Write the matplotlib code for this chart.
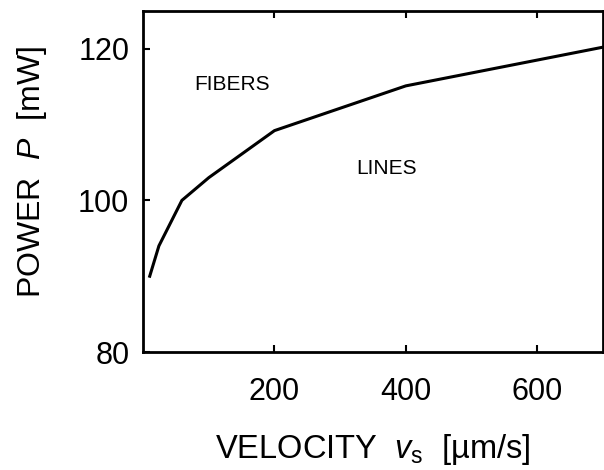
import matplotlib
matplotlib.use("Agg")
import matplotlib.pyplot as plt

# power vs scan velocity
velocity = [10, 24, 59, 100, 200, 400, 700]
power = [90, 94, 100, 103, 109.2, 115.1, 120.2]

x_ticks = [200, 400, 600]
y_ticks = [80, 100, 120]

plt.rcParams['font.family'] = ['Liberation Sans', 'DejaVu Sans']
plt.rcParams['mathtext.fontset'] = 'custom'
plt.rcParams['mathtext.it'] = 'Liberation Sans:italic'
plt.rcParams['mathtext.rm'] = 'Liberation Sans'

fig = plt.figure(figsize=(6.04, 4.70), dpi=100)
ax = fig.add_axes([0.237, 0.251, 0.761, 0.726])

ax.plot(velocity, power, color='black', lw=2.2)

ax.set_xlim(0, 700)
ax.set_ylim(80, 125)
ax.set_xticks(x_ticks)
ax.set_yticks(y_ticks)
ax.tick_params(direction='in', length=5, width=1.5, labelsize=22,
               top=True, right=False)
ax.tick_params(axis='x', pad=18)
ax.tick_params(axis='y', pad=10)
for s in ax.spines.values():
    s.set_linewidth(2)

ax.text(136, 115.3, 'FIBERS', fontsize=15, ha='center', va='center')
ax.text(370, 104.2, 'LINES', fontsize=15, ha='center', va='center')

ax.set_xlabel(r'VELOCITY  $\mathit{v}_{\mathrm{s}}$  [µm/s]', fontsize=23.5, labelpad=18)
ax.set_ylabel(r'POWER  $\mathit{P}$  [mW]', fontsize=23)
ax.yaxis.set_label_coords(-0.205, 0.528)

fig.savefig('out.png', dpi=100)
